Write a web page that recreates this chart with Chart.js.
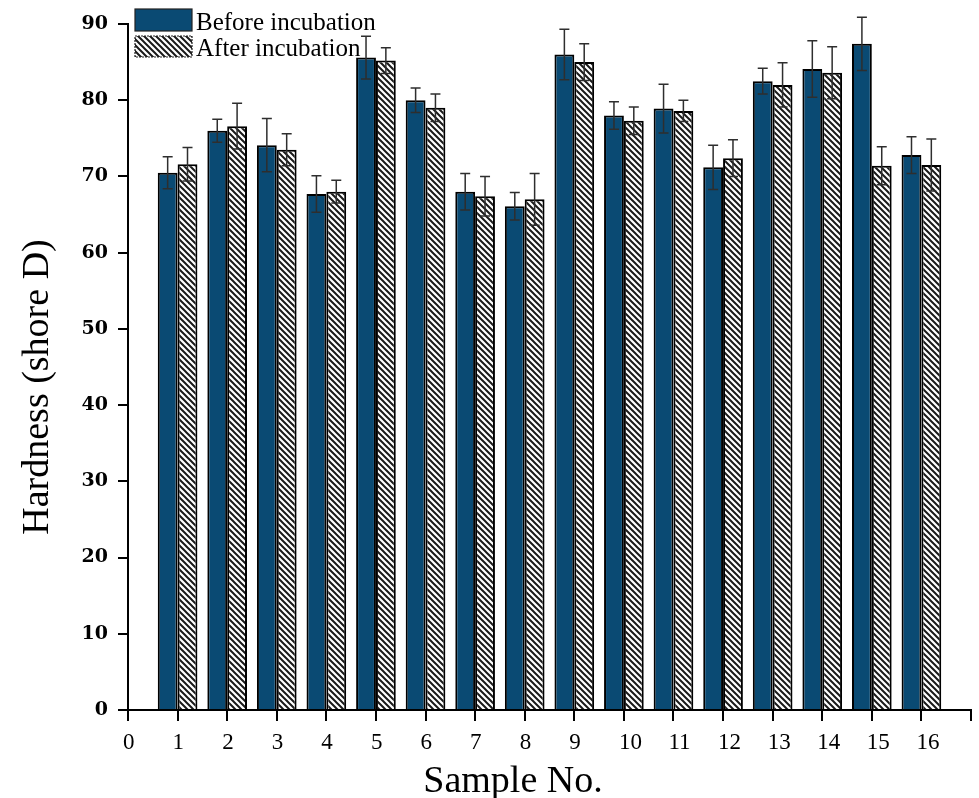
<!DOCTYPE html>
<html>
<head>
<meta charset="utf-8">
<script src="https://cdn.jsdelivr.net/npm/chart.js@4.4.1/dist/chart.umd.min.js"></script>
<style>
html,body{margin:0;padding:0;background:#fff;}
#wrap{width:979px;height:798px;position:relative;}
</style>
</head>
<body>
<div id="wrap"><canvas id="c" width="979" height="798"></canvas></div>
<script>
// ---- data ----
const samples = [1,2,3,4,5,6,7,8,9,10,11,12,13,14,15,16];
const seriesNames = ['Before incubation', 'After incubation'];
const beforeValues = [70.5,76.0,74.1,67.7,85.6,80.0,68.0,66.1,86.0,78.0,78.9,71.2,82.5,84.1,87.4,72.8];
const beforeErrors = [2.1,1.5,3.5,2.4,2.8,1.6,2.4,1.8,3.3,1.8,3.2,2.9,1.7,3.7,3.5,2.4];
const afterValues  = [71.6,76.6,73.5,68.0,85.2,79.0,67.4,67.0,85.0,77.3,78.6,72.4,82.0,83.6,71.4,71.5];
const afterErrors  = [2.2,3.0,2.1,1.5,1.7,1.8,2.6,3.4,2.4,1.8,1.4,2.4,2.9,3.4,2.5,3.4];
const xTickLabels = ['0','1','2','3','4','5','6','7','8','9','10','11','12','13','14','15','16'];
const yTickValues = [0,10,20,30,40,50,60,70,80,90];
const xTitle = 'Sample No.';
const yTitle = 'Hardness (shore D)';

const BLUE = '#0a4a73';
const canvas = document.getElementById('c');
const ctx = canvas.getContext('2d');

function makeHatch(){
  const s = 6;
  const c = document.createElement('canvas');
  c.width = s; c.height = s;
  const g = c.getContext('2d');
  g.fillStyle = '#ffffff'; g.fillRect(0,0,s,s);
  g.strokeStyle = '#1a1a1a'; g.lineWidth = 2.0;
  g.beginPath();
  g.moveTo(-1,-1); g.lineTo(s+1,s+1);
  g.moveTo(-1,s-1); g.lineTo(1,s+1);
  g.moveTo(s-1,-1); g.lineTo(s+1,1);
  g.stroke();
  return ctx.createPattern(c,'repeat');
}
const HATCH = makeHatch();

const errorBars = {
  id: 'errorBars',
  afterDatasetsDraw(chart){
    const c = chart.ctx, ys = chart.scales.y;
    chart.data.datasets.forEach((ds, di) => {
      const meta = chart.getDatasetMeta(di);
      meta.data.forEach((el, i) => {
        const v = ds.data[i], e = ds.errors[i];
        const top = ys.getPixelForValue(v + e), bot = ys.getPixelForValue(v - e);
        c.save();
        c.strokeStyle = '#2e2e2e'; c.lineWidth = 1.5;
        c.beginPath();
        c.moveTo(el.x, top); c.lineTo(el.x, bot);
        c.moveTo(el.x - 5, top); c.lineTo(el.x + 5, top);
        c.moveTo(el.x - 5, bot); c.lineTo(el.x + 5, bot);
        c.stroke();
        c.restore();
      });
    });
  }
};

const legendAndTitles = {
  id: 'legendAndTitles',
  afterDraw(chart){
    const c = chart.ctx, a = chart.chartArea;
    c.save();
    // legend
    const ds = chart.data.datasets;
    const lx = a.left + 7;
    const rows = [{y: 9, h: 22}, {y: 36, h: 21}];
    rows.forEach((r, i) => {
      c.fillStyle = ds[i].backgroundColor;
      c.fillRect(lx, r.y, 57, r.h);
      c.strokeStyle = '#222'; c.lineWidth = 1.2;
      if (i === 1) c.setLineDash([2,1]); else c.setLineDash([]);
      c.strokeRect(lx, r.y, 57, r.h);
      c.setLineDash([]);
      c.fillStyle = '#000';
      c.font = '25px "Liberation Serif"';
      c.textAlign = 'left'; c.textBaseline = 'alphabetic';
      c.fillText(ds[i].label, lx + 61, r.y + r.h - 1);
    });
    // axis titles
    c.fillStyle = '#000';
    c.font = '38px "Liberation Serif"';
    c.textAlign = 'center'; c.textBaseline = 'alphabetic';
    c.fillText(xTitle, a.left + 385, 792);
    c.translate(48, a.top + 363);
    c.rotate(-Math.PI/2);
    c.fillText(yTitle, 0, 0);
    c.restore();
  }
};

new Chart(ctx, {
  type: 'bar',
  data: {
    labels: samples,
    datasets: [
      {label: seriesNames[0], data: beforeValues, errors: beforeErrors,
       backgroundColor: BLUE, borderColor: '#000', borderWidth: 2},
      {label: seriesNames[1], data: afterValues, errors: afterErrors,
       backgroundColor: HATCH, borderColor: '#000', borderWidth: 2}
    ]
  },
  options: {
    responsive: false,
    animation: false,
    devicePixelRatio: 1,
    layout: {padding: {top: 24, right: 3, left: 0, bottom: 0}},
    datasets: {bar: {categoryPercentage: 0.8, barPercentage: 1.0}},
    plugins: {legend: {display: false}, tooltip: {enabled: false}},
    scales: {
      x: {
        type: 'linear', min: 0, max: 17, offset: false,
        afterFit(s){ s.height = 88; },
        afterBuildTicks(s){ s.ticks = xTickLabels.map(Number).concat([17]).map(v => ({value: v})); },
        border: {display: true, color: '#000', width: 2},
        grid: {display: true, drawOnChartArea: false, drawTicks: true, tickLength: 11, color: '#000', lineWidth: 2, offset: false},
        ticks: {
          autoSkip: false, maxRotation: 0, padding: 8, align: 'start', labelOffset: -5,
          color: '#000', font: {family: '"Liberation Serif"', size: 23},
          callback: (v) => (v <= 16 ? xTickLabels[v] : '')
        }
      },
      y: {
        min: 0, max: 90,
        afterFit(s){ s.width = 128; },
        afterBuildTicks(s){ s.ticks = yTickValues.map(v => ({value: v})); },
        border: {display: true, color: '#000', width: 2},
        grid: {display: true, drawOnChartArea: false, drawTicks: true, tickLength: 10, color: '#000', lineWidth: 2},
        ticks: {
          padding: 10, color: '#000',
          font: {family: '"DejaVu Serif"', size: 19, weight: 'bold'}
        }
      }
    }
  },
  plugins: [errorBars, legendAndTitles]
});
</script>
</body>
</html>
